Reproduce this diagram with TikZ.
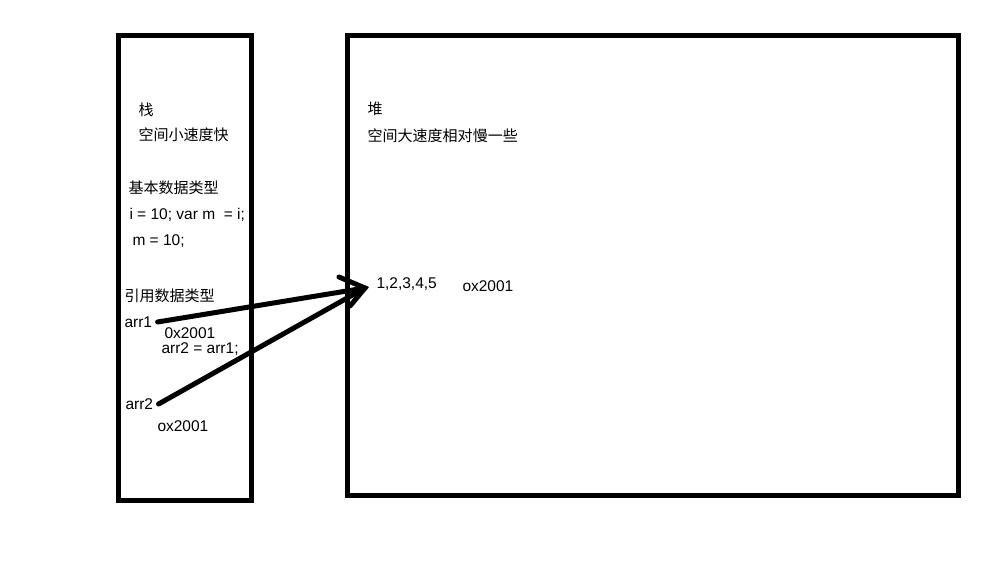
\documentclass[tikz,border=0pt]{standalone}
\usepackage{fontspec}
\setmainfont{Liberation Sans}
\newfontfamily\cjk{Noto Sans CJK SC}[Scale=0.97]
\usetikzlibrary{positioning}

\begin{document}
\begin{tikzpicture}[x=1pt,y=-1pt,line width=5pt]
		\useasboundingbox[fill=white] (0,0) rectangle (1000,560);

		\draw (118.5,35) rectangle (251.5,500);
		\draw (347,35) rectangle (958,495);

		\begin{scope}[every node/.style={anchor=west,inner sep=0pt,font=\fontsize{15.5}{17}\selectfont}]
			\node (sa) at (136,110) {\cjk 栈};
			\node (sb) at (136,135) {\cjk 空间小速度快};
			\node (sc) at (126,188) {\cjk 基本数据类型};
			\node (sd) at (127,215) {i = 10; var m\ \ = i;};
			\node (se) at (130,241) {m = 10;};
			\node (sf) at (122,296) {\cjk 引用数据类型};
			\node (arr1) at (122,322) {arr1};
			\node (sg) at (162,333) {0x2001};
			\node (sh) at (159,349) {arr2 = arr1;};
			\node (arr2) at (123,404) {arr2};
			\node (si) at (155,426) {ox2001};

			\node (ha) at (365,109) {\cjk 堆};
			\node (hb) at (365,136) {\cjk 空间大速度相对慢一些};
			\node (hc) at (374,284) {1,2,3,4,5};
			\node (hd) at (460,286) {ox2001};
		\end{scope}

		\coordinate (tip) at (365,288);
		\coordinate (wa) at (339,277);
		\coordinate (wb) at (350,306);

		\begin{scope}[line cap=round]
			\draw ([xshift=3pt]arr1.east) -- (tip);
			\draw ([xshift=3pt]arr2.east) -- (tip);
			\draw (wa) -- (tip) -- (wb);
		\end{scope}
	\end{tikzpicture}
\end{document}
